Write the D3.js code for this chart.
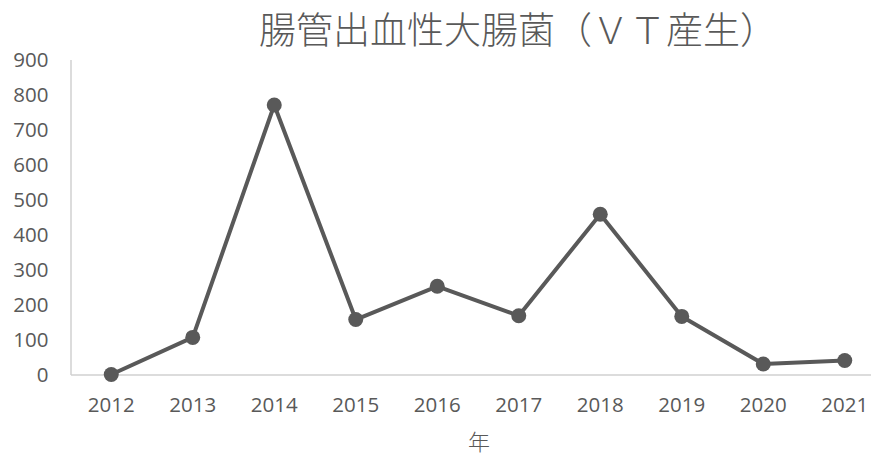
<!DOCTYPE html>
<head>
  <meta charset="utf-8">
  <script src="https://d3js.org/d3.v7.min.js"></script>
  <style>
    body { margin: 0; background: #fff; }
  </style>
</head>

<body>
  <div id="my_dataviz"></div>
</body>

<script>

  // data
  var years = ["2012", "2013", "2014", "2015", "2016", "2017", "2018", "2019", "2020", "2021"];
  var cases = [0, 106, 770, 157, 252, 168, 458, 166, 30, 40];
  var yTicks = [0, 100, 200, 300, 400, 500, 600, 700, 800, 900];

  var data = years.map(function(y, i) { return { year: y, total: cases[i] }; });

  var width = 871, height = 457;
  var grey = "#595959";

  var svg = d3.select("#my_dataviz")
    .append("svg")
      .attr("width", width)
      .attr("height", height);

  // plot area runs past the right edge of the picture
  var x = d3.scaleBand()
      .domain(years)
      .range([70.5, 885.5])
      .padding(0);

  var y = d3.scaleLinear()
      .domain([0, 900])
      .range([374.5, 59.5]);

  // Y axis
  var yAxis = svg.append("g")
      .attr("transform", "translate(70.5,0)")
      .call(d3.axisLeft(y).tickValues(yTicks).tickSize(0).tickPadding(22));
  yAxis.select(".domain").attr("stroke", "#d0d0d0").attr("stroke-width", 1.5);
  yAxis.selectAll("text")
      .attr("fill", grey)
      .style("font-family", "'Open Sans', sans-serif")
      .style("font-size", "20.5px");

  // X axis
  var xAxis = svg.append("g")
      .attr("transform", "translate(0," + y(0) + ")")
      .call(d3.axisBottom(x).tickSize(0).tickPadding(23));
  xAxis.select(".domain").attr("stroke", "#d0d0d0").attr("stroke-width", 1.5);
  xAxis.selectAll("text")
      .attr("fill", grey)
      .style("font-family", "'Open Sans', sans-serif")
      .style("font-size", "20.5px");

  // the line
  svg.append("path")
    .datum(data)
    .attr("fill", "none")
    .attr("stroke", grey)
    .attr("stroke-width", 4)
    .attr("stroke-linejoin", "round")
    .attr("d", d3.line()
      .x(function(d) { return x(d.year) + x.bandwidth() / 2; })
      .y(function(d) { return y(d.total); })
    );

  // markers
  svg.selectAll("circle")
    .data(data)
    .enter()
    .append("circle")
      .attr("cx", function(d) { return x(d.year) + x.bandwidth() / 2; })
      .attr("cy", function(d) { return y(d.total); })
      .attr("r", 7.5)
      .attr("fill", grey);

  // title
  svg.append("text")
      .attr("x", 518)
      .attr("y", 44)
      .attr("text-anchor", "middle")
      .attr("fill", grey)
      .style("font-family", "'Noto Sans CJK JP', sans-serif")
      .style("font-weight", 300)
      .style("font-size", "37px")
      .text("腸管出血性大腸菌（ＶＴ産生）");

  // x axis title
  svg.append("text")
      .attr("x", 479)
      .attr("y", 450)
      .attr("text-anchor", "middle")
      .attr("fill", grey)
      .style("font-family", "'Noto Sans CJK JP', sans-serif")
      .style("font-weight", 300)
      .style("font-size", "22px")
      .text("年");

</script>
